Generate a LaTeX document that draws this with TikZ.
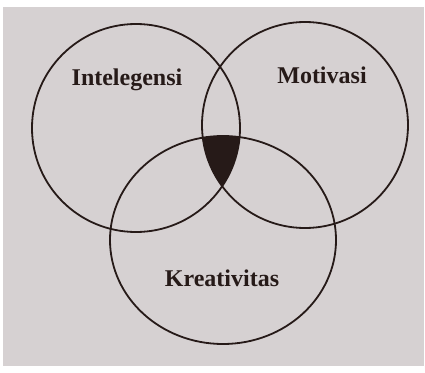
\documentclass[tikz,border=0pt]{standalone}
\usepackage{fontspec}
\setmainfont{Liberation Serif}
\usepackage{xcolor}
\definecolor{paper}{RGB}{214,209,210}
\definecolor{ink}{RGB}{38,26,24}
\tikzset{
    ring/.style={draw=ink,line width=1.8pt},
    tag/.style={text=ink,font=\fontsize{24}{26}\selectfont\bfseries}
}

\begin{document}
\begin{tikzpicture}
    [x=1pt,y=-1pt]
    %paper
    \useasboundingbox (0,0) rectangle (425,372);
    \fill[white] (0,0) rectangle (425,372);
    \fill[paper] (3,7) rectangle (424,366);
    %centres
    \coordinate (intel) at (136,128);
    \coordinate (motiv) at (305,125);
    \coordinate (kreat) at (223,240);
    %common part
    \begin{scope}
    \clip (intel) circle (104);
    \clip (motiv) circle (103);
    \fill[ink] (kreat) ellipse (113 and 104);
    \end{scope}
    %sets
    \draw[ring] (intel) circle (104);
    \draw[ring] (motiv) circle (103);
    \draw[ring] (kreat) ellipse (113 and 104);
    %labels
    \node[tag] (lintel) at (127,80) {Intelegensi};
    \node[tag] (lmotiv) at (322,75) {Motivasi};
    \node[tag] (lkreat) at (222,278) {Kreativitas};
\end{tikzpicture}
\end{document}
